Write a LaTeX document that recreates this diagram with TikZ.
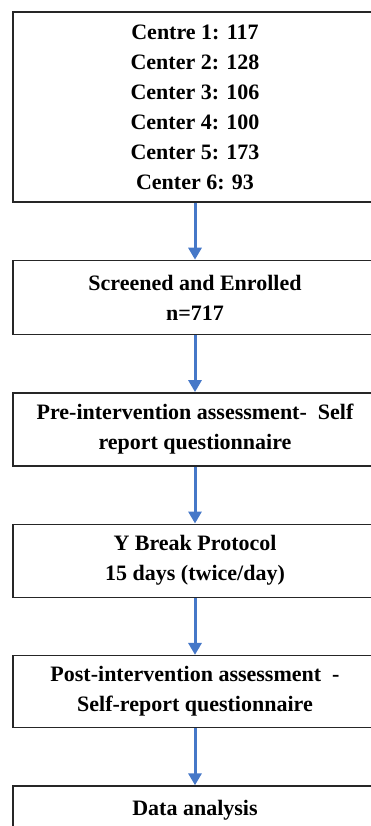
\documentclass[tikz,border=0pt]{standalone}
\usepackage{fontspec}
\setmainfont{Liberation Serif}
\usetikzlibrary{arrows.meta, positioning}
\definecolor{flowblue}{RGB}{70,120,200}
\tikzset{
  box/.style ={draw=black!85, line width=1.4pt, align=center,
               minimum width=364pt, inner sep=4pt,
               font=\bfseries\fontsize{22pt}{30pt}\selectfont},
  arr/.style ={-{Triangle[length=12pt, width=13pt]}, line width=3pt,
               draw=flowblue},
}

\begin{document}
\begin{tikzpicture}[node distance=57pt]
  \useasboundingbox (0,0) rectangle (371pt,-826pt);
  \clip (0,0) rectangle (371pt,-826pt);

  \node[box, minimum height=190pt] (centres) at (195pt,-107pt)
       {Centre 1: 117\\Center 2: 128\\Center 3: 106\\Center 4: 100\\Center 5: 173\\Center 6: 93};
  \node[box, minimum height=74pt, below=of centres]  (enrol)    {Screened and Enrolled\\n=717};
  \node[box, minimum height=73pt, below=of enrol]    (preq)     {Pre-intervention assessment-~~Self\\report questionnaire};
  \node[box, minimum height=73pt, below=of preq]     (protocol) {Y Break Protocol\\15 days (twice/day)};
  \node[box, minimum height=72pt, below=of protocol] (postq)    {Post-intervention assessment~~-\\Self-report questionnaire};
  \node[box, minimum height=73pt, text depth=30pt, below=of postq] (analysis) {Data analysis};

  \draw[arr] (centres)  -- (enrol);
  \draw[arr] (enrol)    -- (preq);
  \draw[arr] (preq)     -- (protocol);
  \draw[arr] (protocol) -- (postq);
  \draw[arr] (postq)    -- (analysis);
\end{tikzpicture}
\end{document}
